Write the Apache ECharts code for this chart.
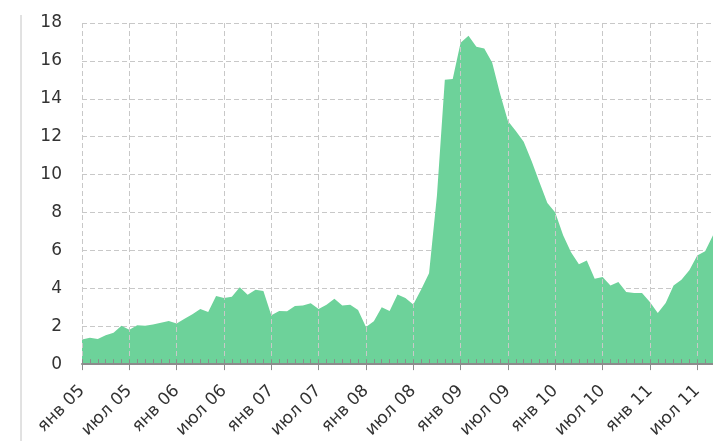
<!DOCTYPE html>
<html>
<head>
<meta charset="utf-8">
<script src="https://cdn.jsdelivr.net/npm/echarts@6/dist/echarts.min.js"></script>
<style>
html,body{margin:0;padding:0;background:#fff}
#chart{width:713px;height:441px}
</style>
</head>
<body>
<div id="chart"></div>
<script>
// months Jan 2005 .. Sep 2011
var monthNames = ['янв','фев','мар','апр','май','июн','июл','авг','сен','окт','ноя','дек'];
var firstYear = 5, monthCount = 81;
var yTicks = [0, 2, 4, 6, 8, 10, 12, 14, 16, 18];
var values = [
  1.30, 1.39, 1.32, 1.53, 1.65, 2.02, 1.82, 2.05, 2.03, 2.09, 2.19, 2.28,
  2.14, 2.40, 2.63, 2.91, 2.75, 3.60, 3.49, 3.56, 4.06, 3.66, 3.93, 3.86,
  2.58, 2.81, 2.79, 3.07, 3.10, 3.21, 2.91, 3.14, 3.45, 3.09, 3.14, 2.86,
  1.96, 2.26, 3.00, 2.80, 3.67, 3.49, 3.15, 3.94, 4.80, 8.90, 15.00, 15.05,
  16.96, 17.33, 16.75, 16.65, 15.92, 14.28, 12.83, 12.30, 11.74, 10.72, 9.60, 8.50,
  8.00, 6.80, 5.91, 5.27, 5.47, 4.51, 4.60, 4.15, 4.33, 3.80, 3.75, 3.75,
  3.28, 2.70, 3.22, 4.15, 4.45, 4.95, 5.73, 5.95, 6.80
];

var categories = [];
for (var i = 0; i < monthCount; i++) {
  var y = firstYear + Math.floor(i / 12);
  categories.push(monthNames[i % 12] + ' ' + (y < 10 ? '0' + y : y));
}

var font = '"DejaVu Sans", Verdana, sans-serif';
var myChart = echarts.init(document.getElementById('chart'));
myChart.setOption({
  animation: false,
  grid: { left: 82, right: 0, top: 23, bottom: 75 },
  graphic: [{
    type: 'line',
    shape: { x1: 21, y1: 15, x2: 21, y2: 441 },
    style: { stroke: '#c4c4c4', lineWidth: 1 }
  }],
  xAxis: [{
    type: 'category',
    data: categories,
    boundaryGap: false,
    position: 'bottom',
    axisLine: { lineStyle: { color: '#8c8c8c', width: 2 } },
    axisTick: { interval: 5, length: 6, lineStyle: { color: '#8c8c8c', width: 1 } },
    axisLabel: { interval: 5, rotate: 45, margin: 24, color: '#333', fontSize: 17, fontFamily: font },
    splitLine: { show: true, interval: 5, lineStyle: { color: '#c8c8c8', type: [5, 3] } },
    z: 5
  }, {
    type: 'category',
    data: categories,
    boundaryGap: false,
    position: 'bottom',
    axisLine: { show: false },
    axisTick: { inside: true, interval: 0, length: 5, lineStyle: { color: '#8c8c8c', width: 1 } },
    axisLabel: { show: false },
    splitLine: { show: false },
    z: 5
  }],
  yAxis: {
    type: 'value',
    min: yTicks[0],
    max: yTicks[yTicks.length - 1],
    interval: 2,
    axisLine: { show: false },
    axisTick: { show: false },
    axisLabel: { margin: 20, color: '#333', fontSize: 17, fontFamily: font },
    splitLine: { lineStyle: { color: '#c8c8c8', type: [5, 3] } }
  },
  series: [{
    type: 'line',
    data: values,
    xAxisIndex: 0,
    symbol: 'none',
    lineStyle: { width: 0 },
    areaStyle: { color: '#6dd29a', opacity: 1 }
  }]
});
</script>
</body>
</html>
